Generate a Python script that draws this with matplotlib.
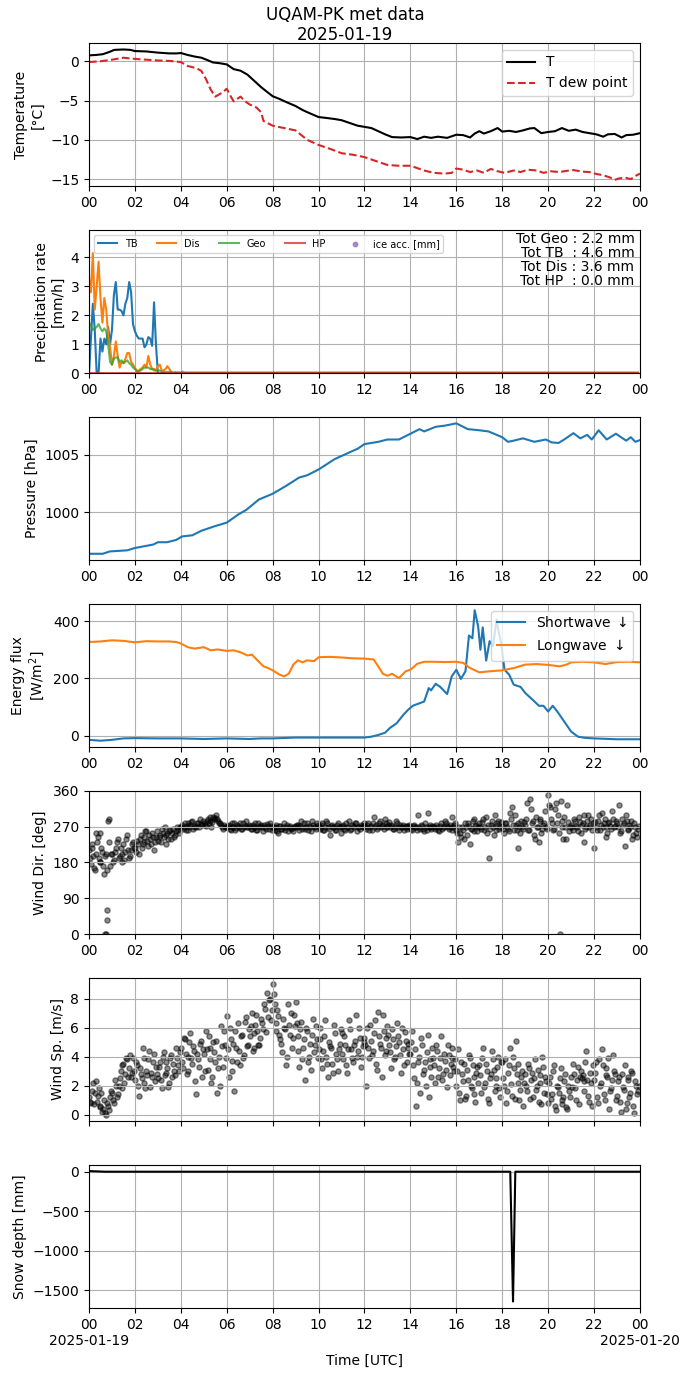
import numpy as np
import pandas as pd
import matplotlib
matplotlib.use("Agg")
import matplotlib.pyplot as plt
import matplotlib.dates as mdates
from matplotlib.ticker import FuncFormatter, MultipleLocator

day0 = pd.Timestamp("2025-01-19")
day1 = pd.Timestamp("2025-01-20")

# temperature (hours, degC)
t_hours = [0.0, 0.3, 0.6, 0.9, 1.1, 1.5, 1.8, 2.0, 2.5, 3.0, 3.5, 3.8, 4.0, 4.3, 4.6, 4.9,
           5.2, 5.4, 5.7, 6.0, 6.3, 6.6, 6.9, 7.2, 7.5, 7.8, 8.0, 8.3, 8.6, 9.0, 9.3, 9.6,
           10.0, 10.3, 10.7, 11.0, 11.4, 11.7, 12.0, 12.3, 12.6, 12.9, 13.2, 13.6, 14.0,
           14.3, 14.6, 14.9, 15.2, 15.6, 16.0, 16.3, 16.6, 16.8, 17.0, 17.2, 17.5, 17.8,
           18.0, 18.3, 18.6, 18.9, 19.2, 19.4, 19.7, 20.0, 20.3, 20.6, 20.9, 21.2, 21.5,
           21.8, 22.1, 22.4, 22.6, 22.9, 23.2, 23.4, 23.7, 24.0]
t_vals = [0.75, 0.8, 0.9, 1.2, 1.45, 1.5, 1.45, 1.3, 1.25, 1.1, 1.0, 1.0, 1.05, 0.8, 0.6, 0.45,
          0.1, -0.15, -0.25, -0.4, -1.0, -1.2, -1.7, -2.5, -3.3, -4.0, -4.45, -4.8, -5.2, -5.7,
          -6.2, -6.6, -7.1, -7.2, -7.35, -7.5, -7.9, -8.2, -8.35, -8.5, -8.9, -9.3, -9.65,
          -9.7, -9.65, -9.9, -9.6, -9.75, -9.6, -9.75, -9.35, -9.4, -9.7, -9.2, -8.9, -9.2,
          -8.9, -8.5, -8.95, -8.85, -9.0, -8.8, -8.55, -8.5, -9.15, -9.0, -8.9, -8.5, -8.85,
          -8.7, -9.0, -9.15, -9.3, -9.6, -9.3, -9.25, -9.7, -9.4, -9.35, -9.15]

td_hours = [0.0, 0.5, 1.0, 1.5, 2.0, 2.5, 3.0, 3.5, 4.0, 4.3, 4.7, 4.9, 5.1, 5.3, 5.5, 5.8,
            6.0, 6.2, 6.3, 6.6, 6.8, 7.0, 7.3, 7.5, 7.6, 8.0, 8.5, 9.0, 9.5, 10.0, 10.5,
            11.0, 11.5, 12.0, 12.5, 13.0, 13.5, 14.0, 14.3, 14.6, 15.0, 15.5, 15.8, 16.0,
            16.3, 16.6, 16.9, 17.2, 17.5, 17.8, 18.1, 18.5, 18.8, 19.1, 19.5, 19.8, 20.1,
            20.5, 20.8, 21.1, 21.5, 21.8, 22.1, 22.4, 22.7, 22.9, 23.1, 23.4, 23.6, 23.8, 24.0]
td_vals = [-0.1, 0.0, 0.2, 0.45, 0.3, 0.2, 0.1, 0.05, -0.1, -0.6, -0.9, -1.25, -2.3, -3.6,
           -4.5, -4.0, -3.5, -4.6, -5.1, -4.5, -5.1, -5.5, -5.9, -6.5, -7.6, -8.2, -8.5, -8.8,
           -10.0, -10.65, -11.15, -11.7, -11.9, -12.2, -12.7, -13.2, -13.3, -13.3, -13.6,
           -13.9, -14.2, -14.3, -14.2, -13.65, -13.8, -14.1, -13.9, -14.2, -13.7, -14.0,
           -14.2, -13.9, -14.1, -13.8, -13.9, -14.2, -14.0, -14.1, -13.95, -13.85, -14.05,
           -14.1, -14.35, -14.5, -14.8, -15.1, -14.9, -14.85, -15.0, -14.6, -14.3]

# precipitation rates, 5 min steps from 00:00 (mm/h), rest of the day is zero / trace
tb_rate = [0.0, 1.2, 2.4, 1.5, 0.0, 0.0, 1.2, 0.75, 1.2, 1.0, 1.6, 1.0, 1.5, 2.7, 3.15,
           2.2, 2.2, 2.15, 2.0, 2.4, 2.6, 3.15, 2.8, 1.7, 1.45, 1.3, 1.2, 1.2, 1.2, 0.9,
           1.0, 1.25, 1.2, 0.95, 2.45, 1.0, 0.0]
dis_rate = [3.3, 2.8, 4.15, 2.2, 3.0, 3.85, 2.6, 1.75, 2.6, 2.2, 1.3, 0.9, 0.3, 0.6, 1.1,
            0.6, 0.2, 0.4, 0.35, 0.5, 0.7, 0.7, 0.4, 0.3, 0.2, 0.05, 0.1, 0.15, 0.2, 0.3,
            0.2, 0.6, 0.3, 0.15, 0.15, 0.1, 0.25, 0.3, 0.1, 0.1, 0.15, 0.25, 0.15, 0.05, 0.0]
geo_rate = [1.75, 1.65, 1.5, 1.55, 1.6, 1.7, 1.55, 1.45, 1.55, 1.45, 1.0, 0.4, 0.3, 0.5,
            0.55, 0.55, 0.4, 0.45, 0.35, 0.4, 0.45, 0.35, 0.3, 0.2, 0.15, 0.1, 0.05, 0.1,
            0.15, 0.2, 0.2, 0.2, 0.15, 0.15, 0.1, 0.1, 0.1, 0.1, 0.05, 0.05, 0.05, 0.05,
            0.05, 0.04, 0.03, 0.05, 0.03, 0.04, 0.03, 0.06, 0.03]
geo_trace = 0.03
tot_text = "Tot Geo : 2.2 mm\nTot TB  : 4.6 mm\nTot Dis : 3.6 mm\nTot HP  : 0.0 mm"

# pressure (hours, hPa)
p_hours = [0.0, 0.6, 0.9, 1.67, 2.0, 2.8, 3.0, 3.4, 3.8, 4.05, 4.5, 4.9, 5.5, 6.0, 6.5,
           6.85, 7.4, 8.0, 8.6, 9.15, 9.5, 10.0, 10.7, 11.25, 11.7, 12.0, 12.6, 13.0, 13.5,
           14.0, 14.4, 14.6, 15.1, 15.5, 16.0, 16.5, 17.0, 17.4, 18.0, 18.25, 18.5, 18.9,
           19.4, 19.9, 20.15, 20.45, 20.7, 21.1, 21.4, 21.7, 21.9, 22.2, 22.55, 22.95,
           23.4, 23.6, 23.8, 24.0]
p_vals = [996.4, 996.4, 996.6, 996.7, 996.9, 997.2, 997.4, 997.4, 997.6, 997.9, 998.0,
          998.4, 998.8, 999.1, 999.8, 1000.2, 1001.1, 1001.6, 1002.3, 1003.0, 1003.2,
          1003.7, 1004.6, 1005.1, 1005.5, 1005.9, 1006.1, 1006.3, 1006.3, 1006.8, 1007.2,
          1007.0, 1007.4, 1007.5, 1007.7, 1007.2, 1007.1, 1007.0, 1006.5, 1006.1, 1006.2,
          1006.4, 1006.1, 1006.3, 1006.05, 1006.0, 1006.3, 1006.85, 1006.4, 1006.7, 1006.3,
          1007.1, 1006.3, 1006.8, 1006.2, 1006.5, 1006.1, 1006.25]

# radiation (hours, W/m2)
sw_hours = [0.0, 0.5, 1.0, 1.5, 2.0, 3.0, 4.0, 5.0, 6.0, 7.0, 7.5, 8.0, 9.0, 10.0, 11.0,
            12.0, 12.3, 12.6, 12.9, 13.1, 13.4, 13.7, 13.9, 14.1, 14.4, 14.6, 14.8, 14.9,
            15.1, 15.3, 15.6, 15.8, 16.0, 16.2, 16.4, 16.55, 16.7, 16.8, 16.95, 17.05,
            17.15, 17.3, 17.45, 17.6, 17.75, 17.85, 17.95, 18.1, 18.3, 18.5, 18.8, 19.0,
            19.3, 19.6, 19.8, 20.0, 20.2, 20.4, 20.7, 21.0, 21.3, 21.6, 22.0, 23.0, 24.0]
sw_vals = [-15, -18, -15, -10, -9, -10, -10, -12, -10, -12, -10, -10, -7, -7, -7, -7, -4,
           2, 10, 26, 43, 73, 90, 104, 113, 119, 166, 158, 181, 170, 145, 207, 230, 198,
           225, 350, 340, 438, 382, 300, 378, 262, 330, 312, 406, 360, 324, 230, 213, 178,
           170, 149, 127, 104, 104, 84, 104, 84, 49, 14, -4, -8, -10, -13, -13]
lw_hours = [0.0, 0.5, 1.0, 1.5, 2.0, 2.5, 3.0, 3.5, 3.8, 4.0, 4.3, 4.6, 5.0, 5.3, 5.6, 6.0,
            6.3, 6.6, 6.9, 7.1, 7.3, 7.6, 7.8, 8.0, 8.3, 8.5, 8.7, 8.9, 9.1, 9.3, 9.5, 9.8,
            10.0, 10.5, 11.0, 11.5, 12.0, 12.4, 12.6, 12.8, 13.0, 13.2, 13.5, 13.8, 14.0,
            14.3, 14.6, 15.0, 15.5, 16.0, 16.3, 16.6, 17.0, 17.5, 18.0, 18.5, 19.0, 19.5,
            20.0, 20.5, 20.8, 21.0, 21.5, 22.0, 22.5, 23.0, 23.5, 24.0]
lw_vals = [327, 329, 333, 331, 326, 330, 329, 329, 327, 322, 309, 304, 309, 298, 301, 296,
           298, 291, 280, 283, 266, 242, 236, 228, 213, 207, 216, 248, 263, 256, 263, 260,
           274, 275, 273, 270, 269, 266, 242, 216, 209, 216, 201, 225, 230, 251, 258, 258,
           257, 258, 254, 236, 221, 225, 228, 236, 248, 250, 247, 242, 248, 256, 258, 256,
           250, 257, 258, 256]

# wind direction, 5 min steps from 00:00 (a) and from 00:02:30 (b)
wdir_a = [210, 175, 195, 160, 230, 190, 255, 205, 150, 200, 285, 170,
          200, 185, 215, 240, 195, 180, 225, 205, 250, 190, 210, 230,
          215, 235, 200, 250, 225, 245, 260, 220, 240, 255, 210, 245,
          235, 250, 265, 245, 225, 255, 260, 240, 265, 250, 270, 255,
          270, 265, 280, 272, 262, 275, 285, 270, 268, 278, 290, 275,
          280, 272, 290, 285, 270, 295, 292, 288, 278, 275, 265, 270,
          268, 275, 262, 270, 280, 266, 272, 278, 265, 270, 285, 268,
          272, 265, 270, 278, 262, 268, 275, 260, 270, 276, 265, 272,
          270, 262, 268, 255, 272, 265, 278, 268, 260, 272, 266, 270,
          268, 275, 262, 285, 270, 265, 278, 272, 260, 275, 268, 280,
          272, 265, 278, 262, 285, 270, 250, 275, 268, 262, 280, 270,
          268, 275, 262, 270, 285, 265, 272, 278, 260, 270, 275, 268,
          272, 265, 280, 270, 262, 295, 275, 268, 285, 272, 265, 278,
          270, 282, 275, 265, 270, 278, 262, 268, 275, 270, 265, 272,
          268, 262, 275, 270, 300, 265, 272, 258, 268, 305, 270, 265,
          272, 265, 270, 260, 278, 268, 285, 272, 265, 270, 295, 275,
          262, 230, 255, 270, 240, 268, 280, 225, 265, 290, 272, 260,
          278, 265, 290, 270, 255, 190, 275, 268, 300, 262, 285, 270,
          272, 255, 280, 265, 305, 320, 262, 275, 215, 270, 285, 265,
          275, 330, 262, 315, 285, 240, 270, 230, 290, 265, 280, 270,
          350, 320, 278, 265, 330, 300, 0, 285, 240, 270, 325, 260,
          275, 262, 285, 270, 295, 255, 280, 230, 268, 300, 275, 262,
          215, 270, 285, 262, 305, 278, 270, 255, 282, 265, 290, 272,
          280, 325, 260, 275, 220, 285, 265, 270, 240, 280, 255, 265]
wdir_b = [190, 225, 165, 200, 245, 180, 215, 170, 195, 160, 230, 200,
          180, 205, 230, 190, 215, 200, 185, 240, 210, 195, 225, 215,
          205, 225, 240, 215, 230, 260, 235, 250, 225, 245, 230, 260,
          245, 230, 255, 270, 250, 240, 262, 255, 245, 258, 262, 270,
          275, 268, 262, 278, 270, 282, 265, 272, 280, 270, 276, 285,
          275, 285, 278, 295, 282, 288, 300, 285, 280, 270, 275, 268,
          272, 265, 278, 270, 262, 275, 270, 265, 280, 272, 268, 275,
          265, 275, 270, 262, 280, 272, 268, 275, 265, 272, 280, 262,
          268, 275, 260, 272, 265, 270, 262, 275, 270, 265, 258, 272,
          275, 268, 272, 265, 278, 270, 262, 268, 285, 270, 265, 275,
          268, 275, 262, 270, 278, 265, 272, 268, 262, 275, 270, 255,
          272, 265, 278, 270, 262, 275, 268, 280, 270, 265, 272, 278,
          268, 275, 262, 272, 278, 268, 265, 280, 270, 275, 290, 268,
          275, 268, 272, 265, 285, 270, 275, 268, 262, 272, 268, 275,
          265, 272, 268, 262, 270, 275, 265, 278, 262, 270, 275, 268,
          268, 275, 262, 272, 265, 270, 280, 268, 275, 262, 270, 278,
          255, 270, 245, 262, 278, 250, 272, 265, 285, 258, 275, 268,
          270, 282, 262, 295, 275, 265, 285, 250, 272, 278, 265, 282,
          265, 280, 270, 258, 290, 275, 300, 262, 278, 255, 270, 282,
          290, 262, 340, 280, 250, 295, 270, 285, 255, 275, 310, 265,
          325, 290, 262, 315, 280, 255, 335, 270, 295, 240, 282, 270,
          268, 290, 272, 260, 282, 275, 300, 265, 285, 270, 290, 278,
          282, 262, 300, 275, 268, 290, 245, 280, 272, 310, 268, 285,
          270, 255, 290, 278, 300, 262, 275, 285, 250, 268, 245, 272]
wdir_extra_hours = [0.7, 0.75, 0.8, 0.78, 0.85, 0.3, 0.5, 0.15]
wdir_extra = [0, 0, 35, 60, 290, 255, 180, 215]

# wind speed, same two time grids
wspd_a = [1.2, 0.8, 2.2, 1.5, 0.9, 1.8, 0.5, 0.2, 1.0, 0.0, 0.6, 1.2,
          1.5, 0.8, 2.0, 1.4, 2.5, 1.8, 3.5, 2.8, 3.8, 3.2, 2.6, 3.9,
          2.4, 3.4, 1.3, 2.8, 4.6, 2.2, 3.0, 3.8, 1.9, 2.6, 4.2, 3.3,
          2.5, 3.6, 1.8, 4.3, 2.9, 3.2, 2.2, 4.1, 3.5, 2.7, 3.9, 3.0,
          4.6, 3.2, 5.2, 2.8, 4.0, 5.6, 3.5, 4.4, 1.4, 3.8, 4.9, 2.6,
          4.2, 5.8, 3.1, 4.6, 2.2, 5.0, 3.6, 1.5, 4.0, 6.1, 3.3, 4.8,
          6.8, 2.6, 5.2, 3.7, 1.6, 4.6, 6.3, 3.4, 5.5, 4.1, 6.7, 4.8,
          5.4, 7.0, 4.6, 6.2, 5.8, 4.8, 6.6, 5.9, 7.3, 8.4, 7.9, 6.5,
          9.0, 7.6, 5.8, 6.8, 5.2, 4.3, 6.0, 3.4, 7.6, 5.5, 4.6, 6.9,
          7.8, 5.4, 3.3, 6.4, 4.6, 2.4, 5.8, 4.0, 3.1, 6.6, 4.8, 5.2,
          4.5, 6.0, 3.2, 5.4, 4.0, 2.6, 4.7, 3.5, 6.2, 4.2, 3.0, 4.9,
          5.6, 3.8, 4.8, 2.9, 6.5, 4.5, 3.6, 5.1, 4.0, 6.0, 3.3, 4.7,
          5.3, 2.0, 4.6, 6.2, 4.1, 5.6, 3.5, 7.1, 4.9, 2.6, 5.8, 4.4,
          6.1, 4.8, 3.2, 5.2, 4.0, 6.3, 5.0, 2.9, 4.5, 5.7, 3.6, 4.9,
          4.2, 5.8, 2.5, 0.6, 3.6, 1.5, 4.8, 3.1, 2.0, 5.5, 3.8, 2.6,
          3.9, 2.2, 4.4, 3.2, 5.4, 2.8, 3.7, 1.9, 4.1, 3.5, 4.6, 3.0,
          2.0, 4.5, 1.0, 2.8, 3.5, 1.3, 2.4, 3.9, 1.8, 2.6, 0.9, 3.3,
          3.4, 1.5, 4.6, 2.2, 3.0, 0.8, 2.8, 3.8, 1.6, 2.5, 4.0, 1.2,
          3.6, 2.0, 0.8, 2.9, 4.6, 1.3, 3.2, 5.1, 2.2, 1.0, 2.6, 0.6,
          2.8, 1.6, 3.2, 2.4, 1.2, 3.8, 2.0, 0.9, 2.7, 4.0, 1.5, 2.3,
          0.8, 2.6, 1.4, 3.4, 0.3, 1.9, 2.5, 0.7, 1.2, 2.8, 0.4, 1.6,
          2.6, 3.5, 1.8, 2.4, 0.7, 3.0, 2.7, 2.3, 4.4, 1.3, 2.9, 0.6,
          2.4, 3.6, 0.8, 2.0, 4.5, 1.4, 3.2, 2.6, 0.4, 1.8, 4.1, 2.8,
          1.3, 2.6, 0.2, 1.9, 3.4, 0.8, 2.4, 1.5, 2.9, 0.1, 2.0, 1.6]
wspd_b = [0.9, 1.6, 0.7, 2.3, 1.3, 0.6, 1.5, 0.4, 0.1, 0.8, 0.3, 1.6,
          1.0, 2.4, 1.2, 2.0, 3.0, 3.4, 2.2, 3.9, 2.6, 4.1, 2.9, 3.0,
          3.6, 2.0, 3.2, 2.5, 3.9, 1.8, 2.7, 4.4, 2.9, 3.6, 2.3, 2.8,
          3.3, 2.4, 4.0, 2.7, 3.6, 1.9, 3.9, 2.6, 3.0, 4.6, 3.4, 4.3,
          3.6, 5.3, 4.2, 3.0, 5.0, 3.9, 4.7, 2.3, 4.2, 3.3, 5.1, 4.5,
          3.0, 4.5, 5.4, 3.8, 2.6, 4.3, 5.1, 3.2, 2.0, 4.7, 5.8, 3.9,
          4.5, 6.0, 3.0, 4.9, 5.8, 3.6, 4.4, 5.4, 3.9, 6.4, 4.7, 5.9,
          6.1, 4.4, 5.6, 6.9, 4.8, 5.3, 6.3, 7.6, 5.7, 6.7, 8.0, 7.2,
          8.3, 6.3, 7.2, 5.5, 4.9, 6.6, 5.9, 4.0, 6.2, 7.0, 5.3, 6.1,
          6.3, 4.4, 5.9, 3.8, 5.2, 6.0, 3.6, 4.9, 5.5, 4.3, 6.1, 3.9,
          5.2, 3.8, 4.4, 6.5, 3.5, 5.0, 4.6, 2.9, 5.6, 3.8, 4.5, 5.9,
          4.2, 5.4, 3.4, 4.5, 5.9, 3.9, 4.8, 6.9, 4.4, 5.3, 4.0, 5.0,
          4.8, 6.0, 3.9, 5.1, 4.4, 6.5, 3.1, 5.4, 4.6, 6.9, 4.1, 5.3,
          5.5, 4.3, 5.9, 3.8, 4.7, 5.4, 4.1, 6.0, 3.4, 5.1, 4.6, 4.2,
          5.0, 3.4, 4.5, 2.2, 4.0, 5.3, 2.8, 3.6, 4.3, 1.2, 3.3, 4.6,
          3.4, 4.8, 2.6, 3.9, 2.4, 4.2, 3.1, 4.8, 2.7, 3.9, 3.3, 3.8,
          3.0, 1.5, 3.6, 2.3, 1.1, 3.1, 4.1, 2.0, 3.4, 1.4, 2.9, 2.2,
          2.7, 3.9, 1.9, 3.5, 1.1, 2.5, 4.4, 3.1, 2.0, 3.3, 1.8, 3.6,
          2.5, 3.8, 1.6, 3.4, 2.1, 4.0, 1.1, 2.8, 3.5, 1.7, 3.0, 2.2,
          2.0, 3.5, 1.1, 2.9, 2.5, 1.7, 3.1, 2.2, 0.7, 3.3, 2.6, 1.4,
          2.2, 1.1, 3.0, 0.6, 2.0, 1.5, 3.2, 1.0, 2.3, 0.5, 2.0, 1.2,
          1.9, 2.8, 1.0, 3.3, 2.6, 2.5, 1.6, 3.6, 2.4, 0.9, 2.2, 3.4,
          2.9, 1.2, 3.8, 2.2, 3.4, 1.0, 2.7, 3.9, 1.6, 2.4, 3.0, 1.0,
          2.3, 0.9, 2.8, 1.7, 0.4, 2.6, 1.2, 3.0, 0.6, 2.3, 1.4, 2.0]

# snow depth (hours, mm)
sd_hours = [0.0, 0.7, 18.35, 18.47, 18.57, 24.0]
sd_vals = [8, 0, 0, -1644, 0, 0]


def to_time(hours):
    return day0 + pd.to_timedelta(np.asarray(hours, dtype=float), unit="h")


t5 = pd.date_range(day0, periods=288, freq="5min")
t5b = t5 + pd.Timedelta(minutes=2.5)


def pad(vals, fill):
    out = np.full(288, fill, dtype=float)
    out[:len(vals)] = vals
    return out


fig, axes = plt.subplots(7, 1, figsize=(6.9, 13.77), dpi=100)
fig.subplots_adjust(left=0.129, right=0.9275, top=0.9688, bottom=0.0501, hspace=0.303)
fig.suptitle("UQAM-PK met data\n2025-01-19", y=0.996, fontsize=12)

ax = axes[0]
ax.plot(to_time(t_hours), t_vals, color="black", label="T")
ax.plot(to_time(td_hours), td_vals, color="tab:red", ls="--", label="T dew point")
ax.set_ylabel("Temperature\n[°C]")
ax.legend(loc="upper right")

ax = axes[1]
ax.plot(t5, pad(tb_rate, 0.0), color="tab:blue", label="TB")
ax.plot(t5, pad(dis_rate, 0.0), color="tab:orange", label="Dis")
ax.plot(t5, pad(geo_rate, geo_trace), color="tab:green", alpha=0.75, label="Geo")
ax.plot(t5, pad([], 0.0), color="tab:red", alpha=0.75, label="HP")
ax.scatter([], [], s=10, color="tab:purple", alpha=0.75, label="ice acc. [mm]")
ax.set_ylim(0, 4.95)
ax.set_ylabel("Precipitation rate\n[mm/h]")
ax.legend(loc="upper left", ncol=5, fontsize=7)
ax.text(0.99, 0.985, tot_text, transform=ax.transAxes, ha="right", va="top",
        fontsize=10, linespacing=1.0)

ax = axes[2]
ax.plot(to_time(p_hours), p_vals, color="tab:blue")
ax.yaxis.set_major_locator(MultipleLocator(5))
ax.set_ylabel("Pressure [hPa]")

ax = axes[3]
ax.plot(to_time(sw_hours), sw_vals, color="tab:blue", label="Shortwave $\\downarrow$")
ax.plot(to_time(lw_hours), lw_vals, color="tab:orange", label="Longwave $\\downarrow$")
ax.set_ylabel("Energy flux\n[W/m$^2$]")
ax.legend(loc="upper right")

ax = axes[4]
ax.scatter(t5, wdir_a, s=14, color="black", alpha=0.45)
ax.scatter(t5b, wdir_b, s=14, color="black", alpha=0.45)
ax.scatter(to_time(wdir_extra_hours), wdir_extra, s=14, color="black", alpha=0.45)
ax.set_ylim(0, 360)
ax.set_yticks([0, 90, 180, 270, 360])
ax.set_ylabel("Wind Dir. [deg]")

ax = axes[5]
ax.scatter(t5, wspd_a, s=14, color="black", alpha=0.45)
ax.scatter(t5b, wspd_b, s=14, color="black", alpha=0.45)
ax.set_yticks([0, 2, 4, 6, 8])
ax.set_ylabel("Wind Sp. [m/s]")
ax.tick_params(labelbottom=False)

ax = axes[6]
ax.plot(to_time(sd_hours), sd_vals, color="black")
ax.set_ylabel("Snow depth [mm]")
ax.set_xlabel("Time [UTC]")


def last_fmt(x, pos):
    d = mdates.num2date(x)
    if d.hour == 0:
        return d.strftime("%H\n%Y-%m-%d")
    return d.strftime("%H")


for i, ax in enumerate(axes):
    ax.set_xlim(day0, day1)
    ax.xaxis.set_major_locator(mdates.HourLocator(byhour=range(0, 24, 2)))
    if i == 6:
        ax.xaxis.set_major_formatter(FuncFormatter(last_fmt))
    else:
        ax.xaxis.set_major_formatter(mdates.DateFormatter("%H"))
    ax.grid(True)

fig.savefig("out.png", dpi=100)
